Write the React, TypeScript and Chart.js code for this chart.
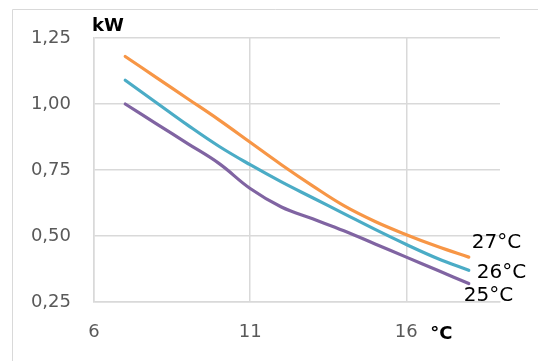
import React, { useEffect, useRef } from "react";
import { Chart, registerables } from "chart.js";

Chart.register(...registerables);

const xValues = [7, 8, 9, 10, 11, 12, 13, 14, 15, 16, 17, 18];
const series27 = [1.18, 1.1, 1.02, 0.94, 0.855, 0.77, 0.69, 0.615, 0.555, 0.505, 0.46, 0.42];
const series26 = [1.09, 1.005, 0.92, 0.84, 0.77, 0.705, 0.645, 0.585, 0.525, 0.468, 0.415, 0.37];
const series25 = [1.0, 0.925, 0.85, 0.775, 0.68, 0.61, 0.565, 0.52, 0.47, 0.42, 0.37, 0.32];
const seriesLabels = ["27°C", "26°C", "25°C"];
const seriesColors = ["#F79646", "#4BACC6", "#8064A2"];
const xTicks = [6, 11, 16];
const yTicks = [0.25, 0.5, 0.75, 1.0, 1.25];
const yUnit = "kW";
const xUnit = "°C";

const FONT = "'DejaVu Sans', sans-serif";

const labelOffsets = [
  { dx: 3, dy: -14 },
  { dx: 8, dy: 2 },
  { dx: -5, dy: 12 },
];

const decorPlugin = {
  id: "decor",
  afterDraw(chart: any) {
    const ctx = chart.ctx;
    const area = chart.chartArea;
    const xs = chart.scales.x;
    const ys = chart.scales.y;
    ctx.save();
    ctx.strokeStyle = "#d9d9d9";
    ctx.lineWidth = 1;
    ctx.beginPath();
    ctx.moveTo(12.5, 361);
    ctx.lineTo(12.5, 9.5);
    ctx.lineTo(538, 9.5);
    ctx.stroke();

    ctx.fillStyle = "#000";
    ctx.font = `bold 18px ${FONT}`;
    ctx.textBaseline = "middle";
    ctx.textAlign = "left";
    ctx.fillText(yUnit, area.left - 2, 26);
    ctx.fillText(xUnit, xs.getPixelForValue(16) + 24, 334);

    ctx.beginPath();
    ctx.rect(0, 0, chart.width, area.bottom + 1);
    ctx.clip();
    ctx.font = `20px ${FONT}`;
    ctx.fillStyle = "#000";
    chart.data.datasets.forEach((ds: any, i: number) => {
      const last = ds.data[ds.data.length - 1];
      const px = xs.getPixelForValue(last.x);
      const py = ys.getPixelForValue(last.y);
      ctx.fillText(seriesLabels[i], px + labelOffsets[i].dx, py + labelOffsets[i].dy);
    });
    ctx.restore();
  },
};

export default function App() {
  const ref = useRef<HTMLCanvasElement | null>(null);
  useEffect(() => {
    if (!ref.current) return;
    const allSeries = [series27, series26, series25];
    const chart = new Chart(ref.current, {
      type: "line",
      data: {
        datasets: allSeries.map((s, i) => ({
          label: seriesLabels[i],
          data: s.map((v, j) => ({ x: xValues[j], y: v })),
          borderColor: seriesColors[i],
          backgroundColor: seriesColors[i],
          borderWidth: 3.2,
          pointRadius: 0,
          tension: 0.4,
          borderCapStyle: "round" as const,
          fill: false,
        })),
      },
      options: {
        responsive: false,
        animation: false,
        devicePixelRatio: 1,
        layout: { padding: { top: 38, right: 38, left: 0, bottom: 0 } },
        plugins: {
          legend: { display: false },
          tooltip: { enabled: false },
        },
        scales: {
          x: {
            type: "linear",
            min: 6,
            max: 19,
            afterBuildTicks: (scale: any) => {
              scale.ticks = xTicks.map((v) => ({ value: v }));
            },
            afterFit: (scale: any) => {
              scale.height = 59;
            },
            grid: { color: "#d9d9d9", lineWidth: 1.5, drawTicks: false },
            border: { display: true, color: "#d9d9d9", width: 1.5 },
            ticks: {
              color: "#595959",
              font: { family: FONT, size: 18 },
              padding: 20,
              maxRotation: 0,
            },
          },
          y: {
            type: "linear",
            min: 0.25,
            max: 1.25,
            afterBuildTicks: (scale: any) => {
              scale.ticks = yTicks.map((v) => ({ value: v }));
            },
            afterFit: (scale: any) => {
              scale.width = 94;
            },
            grid: { color: "#d9d9d9", lineWidth: 1.5, drawTicks: false },
            border: { display: true, color: "#d9d9d9", width: 1.5 },
            ticks: {
              color: "#595959",
              font: { family: FONT, size: 18 },
              padding: 23,
              callback: (v: any) => Number(v).toFixed(2).replace(".", ","),
            },
          },
        },
      },
      plugins: [decorPlugin],
    });
    return () => chart.destroy();
  }, []);
  return (
    <div style={{ position: "fixed", left: 0, top: 0, width: 538, height: 361, background: "#fff" }}>
      <canvas ref={ref} width={538} height={361} style={{ display: "block" }} />
    </div>
  );
}
